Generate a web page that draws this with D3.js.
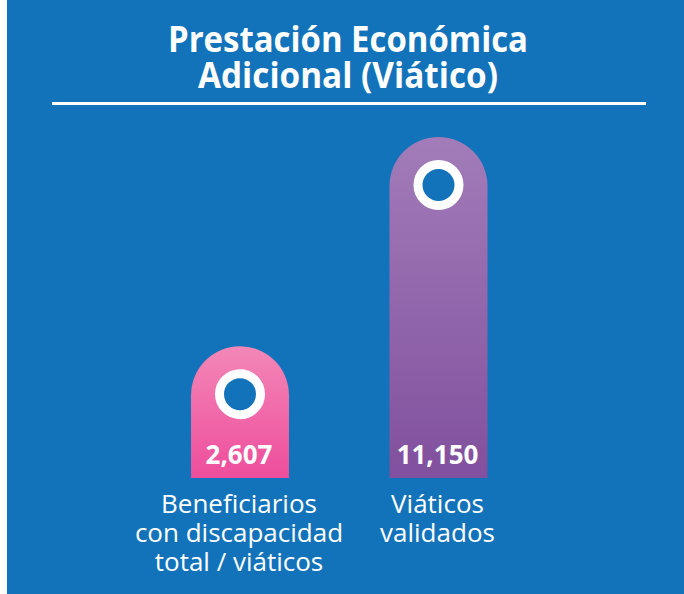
<!DOCTYPE html>
<html><head><meta charset="utf-8">
<script src="https://cdn.jsdelivr.net/npm/d3@7"></script>
<style>html,body{margin:0;padding:0;background:#fff;}svg{display:block;}</style>
</head><body>
<script>
const titleLines = ["Prestación Económica", "Adicional (Viático)"];
const categories = ["Beneficiarios con discapacidad total / viáticos", "Viáticos validados"];
const labelLines = [["Beneficiarios", "con discapacidad", "total / viáticos"], ["Viáticos", "validados"]];
const values = [2607, 11150];
const valueLabels = ["2,607", "11,150"];
const gradTop = ["#f387b7", "#a27cb9"];
const gradBottom = ["#ee4d9c", "#81509e"];

const W = 684, H = 594;
const svg = d3.select("body").append("svg").attr("width", W).attr("height", H);
const defs = svg.append("defs");

svg.append("rect").attr("x", 7).attr("y", 0).attr("width", W - 7).attr("height", H).attr("fill", "#1273bb");

// title
const titleW = [360, 300];
svg.selectAll("text.title").data(titleLines).join("text")
  .attr("class", "title")
  .attr("x", 348).attr("y", (d, i) => 52 + i * 36)
  .attr("text-anchor", "middle")
  .attr("fill", "#fff")
  .attr("font-family", "'Open Sans', sans-serif")
  .attr("font-weight", 700)
  .attr("font-size", 35)
  .attr("textLength", (d, i) => titleW[i])
  .attr("lengthAdjust", "spacingAndGlyphs")
  .text(d => d);
svg.append("line").attr("x1", 52).attr("x2", 646).attr("y1", 103.5).attr("y2", 103.5)
  .attr("stroke", "#fff").attr("stroke-width", 3);

const x = d3.scalePoint().domain(categories).range([240, 438.5]);
const base = 478;
const y = d3.scaleLinear().domain([0, 11150]).range([410, 137]);
const bw = 98, r = bw / 2;

categories.forEach((c, i) => {
  const g = defs.append("linearGradient").attr("id", "g" + i)
    .attr("x1", 0).attr("x2", 0).attr("y1", 0).attr("y2", 1);
  g.append("stop").attr("offset", 0).attr("stop-color", gradTop[i]);
  g.append("stop").attr("offset", 1).attr("stop-color", gradBottom[i]);
});

const bars = svg.selectAll("g.bar").data(categories).join("g").attr("class", "bar");
bars.append("path")
  .attr("d", (c, i) => {
    const cx = x(c), top = y(values[i]);
    const x0 = cx - r, x1 = cx + r;
    return `M${x0},${base}L${x0},${top + r}A${r},${r} 0 0 1 ${x1},${top + r}L${x1},${base}Z`;
  })
  .attr("fill", (c, i) => `url(#g${i})`);
bars.append("circle")
  .attr("cx", c => x(c)).attr("cy", (c, i) => y(values[i]) + r - 1)
  .attr("r", 20.5).attr("fill", "#1273bb").attr("stroke", "#fff").attr("stroke-width", 9);
bars.append("text")
  .attr("x", c => x(c) - 1).attr("y", 464)
  .attr("text-anchor", "middle").attr("fill", "#fff")
  .attr("font-family", "'Open Sans', sans-serif").attr("font-weight", 700).attr("font-size", 26)
  .text((c, i) => valueLabels[i]);

bars.each(function (c, i) {
  d3.select(this).selectAll("text.lab").data(labelLines[i]).join("text")
    .attr("class", "lab")
    .attr("x", x(c) - 1).attr("y", (d, j) => 513 + j * 29)
    .attr("text-anchor", "middle").attr("fill", "#fff")
    .attr("font-family", "'Open Sans', sans-serif").attr("font-size", 26)
    .text(d => d);
});
</script>
</body></html>
